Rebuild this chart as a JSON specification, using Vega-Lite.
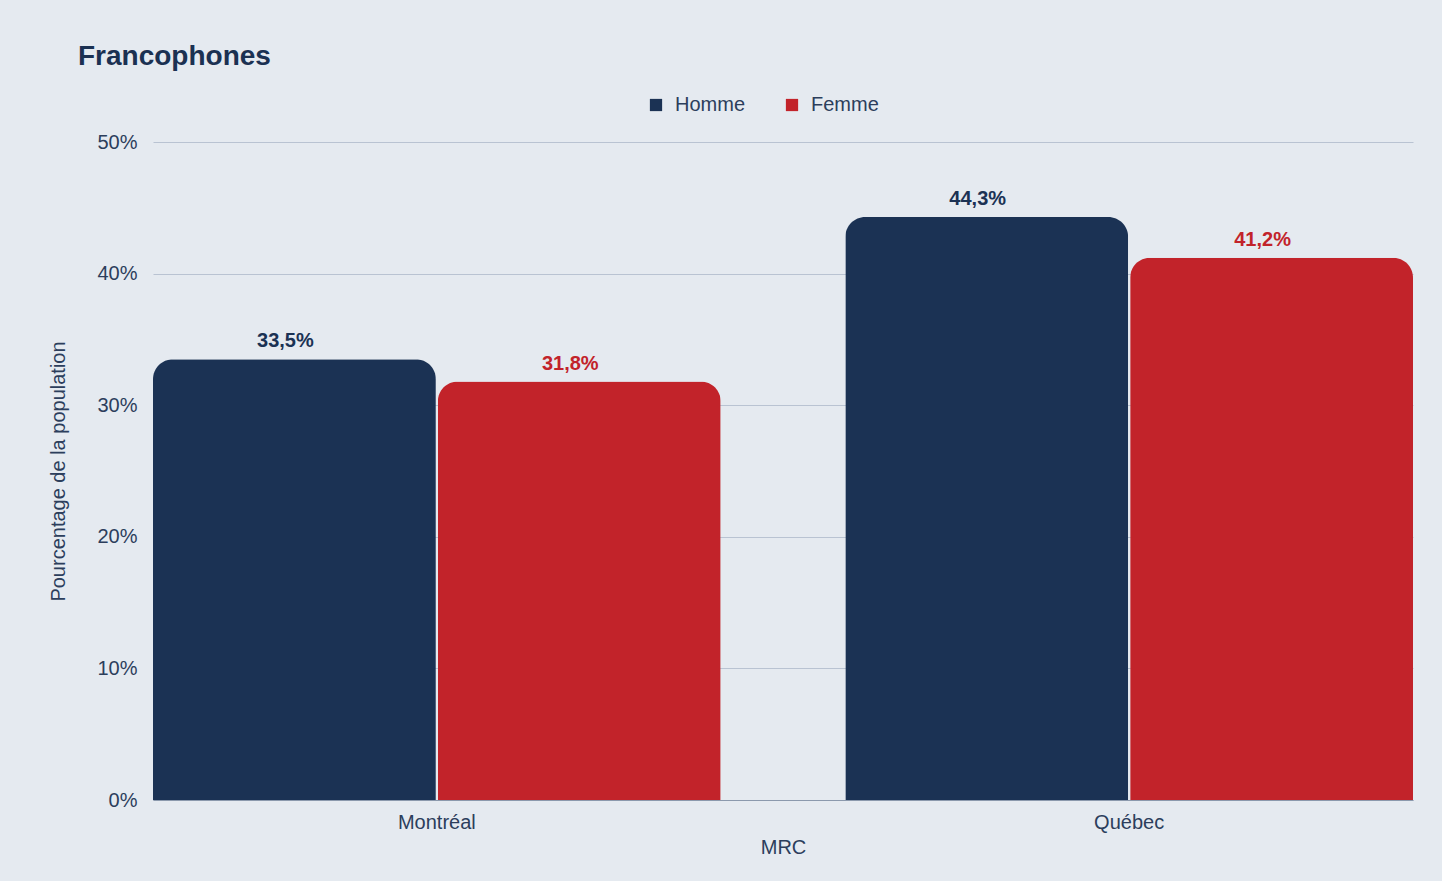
{
  "$schema": "https://vega.github.io/schema/vega-lite/v6.json",
  "autosize": {"type": "none"},
  "width": 1260,
  "height": 658,
  "padding": {"left": 153, "top": 142, "right": 29, "bottom": 81},
  "background": "#e5eaf0",
  "title": {
    "text": "Francophones",
    "anchor": "start",
    "frame": "group",
    "font": "Liberation Sans",
    "fontSize": 28,
    "fontWeight": "bold",
    "color": "#1b3152",
    "dx": -75,
    "offset": 24
  },
  "config": {
    "locale": {"number": {"decimal": ",", "thousands": " ", "grouping": [3], "currency": ["", " $"]}},
    "view": {"stroke": null},
    "font": "Liberation Sans"
  },
  "data": {
    "values": [
      {"MRC": "Montréal", "Sexe": "Homme", "pct": 0.335},
      {"MRC": "Montréal", "Sexe": "Femme", "pct": 0.318},
      {"MRC": "Québec", "Sexe": "Homme", "pct": 0.443},
      {"MRC": "Québec", "Sexe": "Femme", "pct": 0.412}
    ]
  },
  "encoding": {
    "x": {
      "field": "MRC",
      "type": "nominal",
      "scale": {"paddingInner": 0.18, "paddingOuter": 0},
      "axis": {
        "title": "MRC",
        "labelAngle": 0,
        "labelFontSize": 20,
        "labelColor": "#2c3e5c",
        "labelPadding": 12,
        "titleFontSize": 20,
        "titleFontWeight": "normal",
        "titleColor": "#2c3e5c",
        "titlePadding": 5,
        "ticks": false,
        "domainColor": "#8b99ad",
        "domainWidth": 1
      }
    },
    "xOffset": {"field": "Sexe", "type": "nominal", "sort": ["Homme", "Femme"], "scale": {"paddingInner": 0.007}},
    "y": {
      "field": "pct",
      "type": "quantitative",
      "scale": {"domain": [0, 0.5], "nice": false},
      "axis": {
        "title": "Pourcentage de la population",
        "format": ".0%",
        "values": [0, 0.1, 0.2, 0.3, 0.4, 0.5],
        "labelOverlap": false,
        "labelFontSize": 20,
        "labelColor": "#2c3e5c",
        "labelPadding": 16,
        "titleFontSize": 20,
        "titleFontWeight": "normal",
        "titleColor": "#2c3e5c",
        "titlePadding": 28,
        "ticks": false,
        "domain": false,
        "gridColor": "#b9c3d2",
        "gridWidth": 1
      }
    },
    "color": {
      "field": "Sexe",
      "type": "nominal",
      "sort": ["Homme", "Femme"],
      "scale": {"domain": ["Homme", "Femme"], "range": ["#1b3254", "#c2232a"]},
      "legend": {
        "title": null,
        "orient": "none",
        "direction": "horizontal",
        "legendX": 493,
        "legendY": -47,
        "symbolType": "square",
        "symbolSize": 150,
        "symbolStrokeWidth": 0,
        "symbolOpacity": 1,
        "labelFontSize": 20,
        "labelColor": "#2c3e5c",
        "labelOffset": 9,
        "columnPadding": 36
      }
    }
  },
  "layer": [
    {
      "mark": {"type": "bar", "cornerRadiusTopLeft": 20, "cornerRadiusTopRight": 20}
    },
    {
      "mark": {"type": "text", "dy": -8, "dx": -9, "fontSize": 20, "fontWeight": "bold", "baseline": "bottom"},
      "encoding": {
        "text": {"field": "pct", "type": "quantitative", "format": ".1%"}
      }
    }
  ]
}
